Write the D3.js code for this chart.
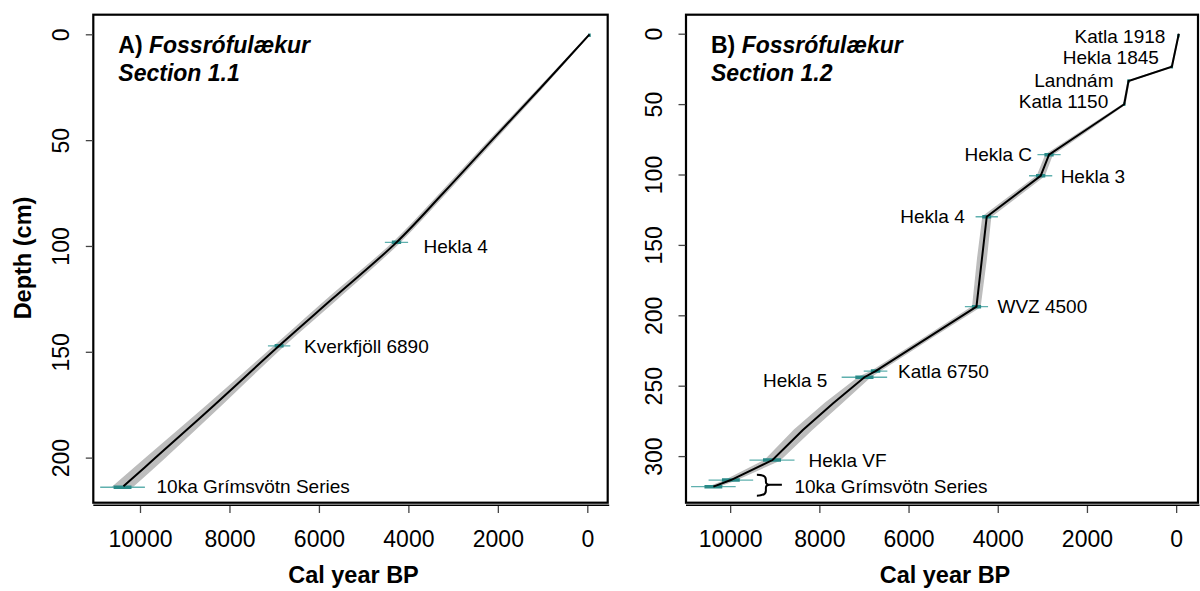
<!DOCTYPE html>
<html>
<head>
<meta charset="utf-8">
<script src="https://cdn.jsdelivr.net/npm/d3@7"></script>
<style>
  html, body { margin: 0; padding: 0; background: #fff; }
  svg { display: block; }
  text { font-family: "Liberation Sans", Arial, Helvetica, sans-serif; fill: #000; }
</style>
</head>
<body>
<svg id="chart" width="1200" height="591"></svg>
<script>
// ---------------- DATA ----------------
const xTicks = [10000, 8000, 6000, 4000, 2000, 0];
const yTicksA = [0, 50, 100, 150, 200];
const yTicksB = [0, 50, 100, 150, 200, 250, 300];

// Panel A age-depth model
const depthA   = [0, 25, 50, 75, 98.3, 125, 147.2, 175, 200, 213.5];
const ageA     = [-50, 1030, 2130, 3220, 4266, 5700, 6890, 8330, 9650, 10370];
const ageMinA  = [-50, 1000, 2085, 3165, 4200, 5600, 6795, 8180, 9450, 10160];
const ageMaxA  = [-50, 1060, 2175, 3275, 4330, 5800, 6985, 8480, 9850, 10590];

// Panel A tephra tie-points
const tephraNamesA = ["", "Hekla 4", "Kverkfjöll 6890", "10ka Grímsvötn Series"];
const tephraAgeA   = [-50, 4266, 6890, 10390];
const tephraDepthA = [0.5, 98.3, 147.2, 214];
const tephraErrA   = [12, 260, 250, 500];

// Panel B age-depth model
const depthB   = [0, 23.4, 33.6, 50.1, 70, 85.9, 100.9, 130, 160, 193.9, 215, 239.6, 244, 262.5, 281.5, 302.8, 317, 321.7];
const ageB     = [-60, 96, 1068, 1164, 2100, 2850, 3038, 4247, 4355, 4477, 5520, 6740, 6990, 7690, 8370, 9050, 9984, 10376];
const ageMinB  = [-60, 90, 1060, 1150, 2050, 2780, 2960, 4160, 4260, 4400, 5450, 6660, 6870, 7510, 8180, 8890, 9884, 10300];
const ageMaxB  = [-60, 102, 1076, 1178, 2150, 2920, 3110, 4330, 4450, 4560, 5590, 6820, 7110, 7870, 8560, 9210, 10084, 10450];

// Panel B tephra tie-points
const tephraNamesB = ["Katla 1918", "Hekla 1845", "Landnám", "Katla 1150", "Hekla C", "Hekla 3", "Hekla 4", "WVZ 4500", "Katla 6750", "Hekla 5", "Hekla VF", "", "10ka Grímsvötn Series"];
const tephraAgeB   = [-50, 96, 1068, 1164, 2850, 3038, 4247, 4477, 6740, 6990, 9062, 9984, 10376];
const tephraDepthB = [1.5, 23.4, 33.6, 50.1, 85.9, 100.9, 130, 193.9, 239.6, 244, 302.8, 317, 321.7];
const tephraErrB   = [15, 15, 15, 15, 260, 260, 250, 260, 265, 510, 505, 500, 500];

// ---------------- LAYOUT (label placement, not data) ----------------
const labelLayoutA = [null, {dx: 27, dy: 11, anchor: "start"}, {dx: 25, dy: 7, anchor: "start"}, {dx: 34, dy: 6, anchor: "start"}];
const labelLayoutB = [
  {dx: -13, dy: 7.5, anchor: "end"},
  {dx: -13, dy: -2.4, anchor: "end"},
  {dx: -15, dy: 6.3, anchor: "end"},
  {dx: -16, dy: 4, anchor: "end"},
  {dx: -17, dy: 6.3, anchor: "end"},
  {dx: 20, dy: 7, anchor: "start"},
  {dx: -22, dy: 6, anchor: "end"},
  {dx: 21, dy: 6.6, anchor: "start"},
  {dx: 22.5, dy: 6.7, anchor: "start"},
  {dx: -37, dy: 9.4, anchor: "end"},
  {dx: 36.5, dy: 6.7, anchor: "start"},
  null,
  {dx: 81, dy: 6.6, anchor: "start", brace: true}
];

const svg = d3.select("#chart");
const FONT = '"Liberation Sans", Arial, Helvetica, sans-serif';

function panel(cfg) {
  const x = d3.scaleLinear().domain(cfg.xDomain).range([cfg.left, cfg.right]);
  const y = d3.scaleLinear().domain(cfg.yDomain).range([cfg.top, cfg.bottom]);
  const g = svg.append("g");

  const clipId = "clip" + cfg.id;
  svg.append("clipPath").attr("id", clipId).append("rect")
    .attr("x", cfg.left).attr("y", cfg.top)
    .attr("width", cfg.right - cfg.left).attr("height", cfg.bottom - cfg.top);
  const inner = g.append("g").attr("clip-path", `url(#${clipId})`);

  // grey uncertainty band
  const bandData = cfg.depth.map((d, i) => ({d, lo: cfg.ageMin[i], hi: cfg.ageMax[i]}));
  inner.append("path")
    .datum(bandData)
    .attr("d", d3.area().y(p => y(p.d)).x0(p => x(p.lo)).x1(p => x(p.hi)).curve(cfg.curve))
    .attr("fill", "#bdbdbd").attr("stroke", "#bdbdbd").attr("stroke-width", 1.5);

  // tephra error bars
  const tp = cfg.tAge.map((a, i) => ({a, d: cfg.tDepth[i], e: cfg.tErr[i], name: cfg.tNames[i], lay: cfg.layout[i]}));
  inner.selectAll("line.err").data(tp).join("line")
    .attr("x1", p => x(p.a + p.e)).attr("x2", p => x(p.a - p.e))
    .attr("y1", p => y(p.d)).attr("y2", p => y(p.d))
    .attr("stroke", "#5fb0ae").attr("stroke-width", 1.3);
  inner.selectAll("line.core").data(tp).join("line")
    .attr("x1", p => Math.min(x(p.a + p.e * 0.4), x(p.a) - 1.2))
    .attr("x2", p => Math.max(x(p.a - p.e * 0.4), x(p.a) + 1.2))
    .attr("y1", p => y(p.d)).attr("y2", p => y(p.d))
    .attr("stroke", "#2a8a88").attr("stroke-width", 3.5);

  // age-depth line
  const lineData = cfg.depth.map((d, i) => ({d, a: cfg.age[i]}));
  inner.append("path")
    .datum(lineData)
    .attr("d", d3.line().y(p => y(p.d)).x(p => x(p.a)).curve(cfg.curve))
    .attr("fill", "none").attr("stroke", "#000").attr("stroke-width", 2);

  // labels
  tp.forEach(p => {
    if (!p.lay || !p.name) return;
    const px = x(p.a), py = y(p.d);
    g.append("text")
      .attr("x", px + p.lay.dx).attr("y", py + p.lay.dy)
      .attr("text-anchor", p.lay.anchor)
      .style("font-size", "19px")
      .text(p.name);
    if (p.lay.brace) {
      const bx = px + 43.5, by = py - 2;
      g.append("path")
        .attr("d", `M${bx},${by - 10} Q${bx + 9},${by - 10} ${bx + 9},${by - 5} L${bx + 9},${by - 3} Q${bx + 9},${by} ${bx + 13},${by} L${bx + 25},${by} M${bx + 13},${by} Q${bx + 9},${by} ${bx + 9},${by + 3} L${bx + 9},${by + 6} Q${bx + 9},${by + 11} ${bx},${by + 11}`)
        .attr("fill", "none").attr("stroke", "#000").attr("stroke-width", 2);
    }
  });

  // box
  g.append("rect")
    .attr("x", cfg.left).attr("y", cfg.top)
    .attr("width", cfg.right - cfg.left).attr("height", cfg.bottom - cfg.top)
    .attr("fill", "none").attr("stroke", "#000").attr("stroke-width", 2.2);
  g.append("line")
    .attr("x1", cfg.left).attr("x2", cfg.right + 1.5)
    .attr("y1", cfg.bottom + 2.6).attr("y2", cfg.bottom + 2.6)
    .attr("stroke", "#000").attr("stroke-width", 1.4);

  // x axis
  const xAxis = d3.axisBottom(x).tickValues(xTicks).tickSize(7).tickPadding(0).tickFormat(d3.format("d"));
  const xg = g.append("g").attr("transform", `translate(0,${cfg.bottom + 3.3})`).call(xAxis);
  xg.select(".domain").remove();
  xg.selectAll(".tick line").attr("stroke", "#444").attr("stroke-width", 1.3);
  xg.selectAll(".tick text").attr("y", 0).attr("dy", null)
    .attr("transform", `translate(0,${547 - cfg.bottom - 3.3})`)
    .style("font-size", "23px").style("font-family", FONT).attr("fill", "#000");

  // y axis
  const yAxis = d3.axisLeft(y).tickValues(cfg.yTicks).tickSize(7).tickPadding(0).tickFormat(d3.format("d"));
  const yg = g.append("g").attr("transform", `translate(${cfg.left - 0.5},0)`).call(yAxis);
  yg.select(".domain").remove();
  yg.selectAll(".tick line").attr("stroke", "#444").attr("stroke-width", 1.3);
  yg.selectAll(".tick text")
    .attr("x", 0).attr("dy", null).attr("y", 0)
    .attr("text-anchor", "middle")
    .attr("transform", "translate(-24,0) rotate(-90)")
    .style("font-size", "23px").style("font-family", FONT).attr("fill", "#000");

  // x axis title
  g.append("text")
    .attr("x", (cfg.left + cfg.right) / 2 + 3).attr("y", 583)
    .attr("text-anchor", "middle")
    .style("font-size", "23.5px").style("font-weight", "bold")
    .text("Cal year BP");

  // panel title
  const t = g.append("text").attr("x", cfg.left + 25).attr("y", 53)
    .style("font-size", "23px").style("font-weight", "bold");
  t.append("tspan").text(cfg.letter + " ");
  t.append("tspan").style("font-style", "italic").text("Fossrófulækur");
  g.append("text").attr("x", cfg.left + 25).attr("y", 81)
    .style("font-size", "23px").style("font-weight", "bold").style("font-style", "italic")
    .text(cfg.section);
}

panel({
  id: "A", left: 93.3, right: 607.7, top: 14.7, bottom: 502.7,
  xDomain: [11044, -456], yDomain: [-9.26, 221.3],
  yTicks: yTicksA,
  depth: depthA, age: ageA, ageMin: ageMinA, ageMax: ageMaxA,
  tNames: tephraNamesA, tAge: tephraAgeA, tDepth: tephraDepthA, tErr: tephraErrA,
  layout: labelLayoutA, curve: d3.curveCatmullRom,
  letter: "A)", section: "Section 1.1"
});

panel({
  id: "B", left: 686, right: 1198, top: 14.7, bottom: 502.7,
  xDomain: [10990, -490], yDomain: [-13.5, 333.1],
  yTicks: yTicksB,
  depth: depthB, age: ageB, ageMin: ageMinB, ageMax: ageMaxB,
  tNames: tephraNamesB, tAge: tephraAgeB, tDepth: tephraDepthB, tErr: tephraErrB,
  layout: labelLayoutB, curve: d3.curveLinear,
  letter: "B)", section: "Section 1.2"
});

// y axis title
svg.append("text")
  .attr("transform", "translate(31,258) rotate(-90)")
  .attr("text-anchor", "middle")
  .style("font-size", "23.5px").style("font-weight", "bold")
  .text("Depth (cm)");
</script>
</body>
</html>
